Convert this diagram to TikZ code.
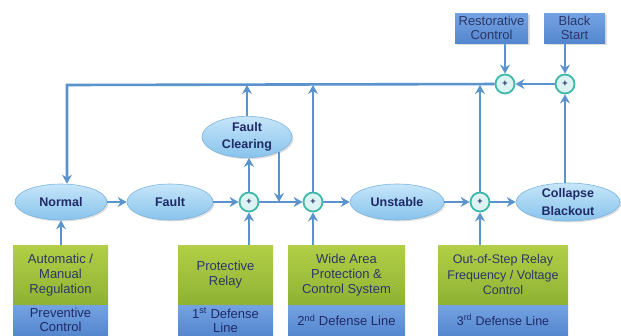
\documentclass[tikz,border=0pt]{standalone}
\usepackage{fontspec}
\setmainfont{Liberation Sans}
\usetikzlibrary{arrows.meta,shapes.geometric,shadows}
\definecolor{wireblue}{HTML}{5B93CC}
\definecolor{navytext}{HTML}{1F2A66}
\definecolor{ovaltop}{HTML}{C6E6FA}
\definecolor{ovalbot}{HTML}{88C3EC}
\definecolor{ovaledge}{HTML}{7DB4DD}
\definecolor{sumedge}{HTML}{3DB8A9}
\definecolor{sumfill}{HTML}{DDF3F1}
\definecolor{greentop}{HTML}{B2CE46}
\definecolor{greenbot}{HTML}{8FB234}
\definecolor{bluetop}{HTML}{74A3E2}
\definecolor{bluebot}{HTML}{5587CF}
\definecolor{boxtext}{HTML}{2B3767}
\begin{document}
\begin{tikzpicture}[x=1pt,y=-1pt,
  wire/.style={line width=2.6pt, draw=wireblue},
  arr/.style={wire, -{Stealth[length=9pt,width=10pt,inset=3pt]}},
  state/.style={ellipse, draw=ovaledge, line width=0.6pt,
    top color=ovaltop, bottom color=ovalbot, inner sep=0pt,
    text=navytext, align=center,
    font=\bfseries\fontsize{12.5}{17.5}\selectfont,
    drop shadow={opacity=0.25, shadow xshift=1.5pt, shadow yshift=-1.5pt}},
  sum/.style={circle, draw=sumedge, line width=1.8pt, fill=sumfill,
    minimum size=19pt, inner sep=0pt, text=navytext,
    font=\bfseries\fontsize{9}{9}\selectfont},
  greenbox/.style={rectangle, top color=greentop, bottom color=greenbot,
    minimum height=60pt, inner sep=0pt, text=boxtext, align=center,
    font=\fontsize{13}{15}\selectfont},
  bluebox/.style={rectangle, top color=bluetop, bottom color=bluebot,
    minimum height=30pt, inner sep=0pt, text=navytext, align=center,
    font=\fontsize{13}{14}\selectfont},
  topbox/.style={rectangle, top color=bluetop, bottom color=bluebot,
    minimum height=30pt, inner sep=0pt, text=boxtext, align=center,
    font=\fontsize{13}{14.5}\selectfont,
    drop shadow={opacity=0.25, shadow xshift=1.5pt, shadow yshift=-1.5pt}}
]
\useasboundingbox (0,0) rectangle (621,335);

% system states along the main row
\node[state, minimum width=92pt, minimum height=36pt] (normal) at (61,202) {Normal};
\node[state, minimum width=86pt, minimum height=36pt] (fault) at (170,202) {Fault};
\node[state, minimum width=94pt, minimum height=36pt] (unstable) at (397,202) {Unstable};
\node[state, minimum width=104pt, minimum height=38pt] (collapse) at (568,202) {Collapse\\Blackout};
\node[state, minimum width=90pt, minimum height=38pt] (clearing) at (247,137) {Fault\\Clearing};

% summing junctions
\node[sum] (s1) at (249,202) {+};
\node[sum] (s2) at (313,202) {+};
\node[sum] (s3) at (480,202) {+};
\node[sum] (t1) at (505,84) {+};
\node[sum] (t2) at (565,84) {+};
\coordinate (corner) at (67,85);

% restoration inputs
\node[topbox, minimum width=73pt] (restore) at (491.5,28) {Restorative\\Control};
\node[topbox, minimum width=61pt] (black) at (574.5,28) {Black\\Start};

% control measures and defense lines
\node[greenbox, minimum width=95pt] (g1) at (60.5,275) {Automatic /\\Manual\\Regulation};
\node[bluebox, minimum width=95pt] (b1) at (60.5,320) {Preventive\\Control};
\node[greenbox, minimum width=95pt] (g2) at (225.5,275) {Protective\\Relay};
\node[bluebox, minimum width=95pt] (b2) at (225.5,320) {1\textsuperscript{st} Defense\\Line};
\node[greenbox, minimum width=117pt] (g3) at (346.5,275) {Wide Area\\Protection \&\\Control System};
\node[bluebox, minimum width=117pt] (b3) at (346.5,320) {2\textsuperscript{nd} Defense Line};
\node[greenbox, minimum width=130pt, font=\fontsize{12.5}{15.5}\selectfont] (g4) at (503,275) {Out-of-Step Relay\\Frequency / Voltage\\Control};
\node[bluebox, minimum width=130pt, font=\fontsize{12.5}{14}\selectfont] (b4) at (503,320) {3\textsuperscript{rd} Defense Line};

% main row flow
\draw[arr] (normal) -- (fault);
\draw[arr] (fault) -- (s1);
\draw[arr] (s1) -- (s2);
\draw[arr] (s2) -- (unstable);
\draw[arr] (unstable) -- (s3);
\draw[arr] (s3) -- (collapse);

% inputs from below
\draw[arr] (normal |- g1.north) -- (normal.south);
\draw[arr] (s1 |- g2.north) -- (s1);
\draw[arr] (s2 |- g3.north) -- (s2);
\draw[arr] (s3 |- g4.north) -- (s3);

% fault clearing branch
\draw[arr] (s1) -- (s1 |- clearing.south);
\draw[arr] (clearing.south east) -- (clearing.south east |- s1);

% restoration loop
\draw[arr] (restore.south -| t1) -- (t1);
\draw[arr] (black.south -| t2) -- (t2);
\draw[arr] (collapse.north -| t2) -- (t2);
\draw[arr] (t2) -- (t1);
\draw[arr] (t1) -- (corner) -- (corner |- normal.north);
\draw[arr] (clearing.north) -- (clearing.north |- corner);
\draw[arr] (s2) -- (s2 |- corner);
\draw[arr] (s3) -- (s3 |- corner);
\end{tikzpicture}
\end{document}
